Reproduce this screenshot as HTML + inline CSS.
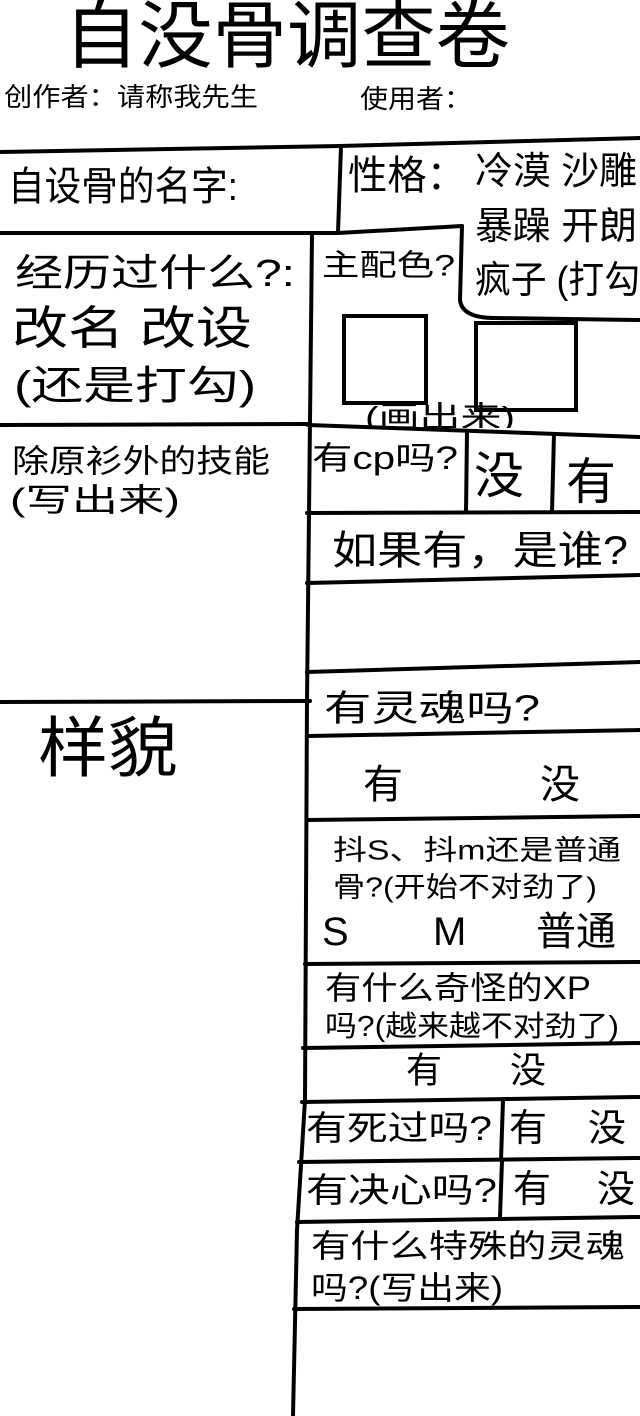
<!DOCTYPE html>
<html><head><meta charset="utf-8"><style>
html,body{margin:0;padding:0;background:#fff;}
svg{display:block;}
text{font-family:"Liberation Sans","Noto Sans CJK SC",sans-serif;fill:#000;dominant-baseline:central;}
</style></head><body>
<svg width="640" height="1416" viewBox="0 0 640 1416" xmlns="http://www.w3.org/2000/svg">
<defs><clipPath id="c1"><rect x="300" y="380" width="340" height="48"/></clipPath></defs>
<g stroke="#000" stroke-width="4" fill="none" stroke-linecap="round">
<path d="M0 152 L340 146 L640 138"/>
<path d="M341 146 L338 233"/>
<path d="M0 233 L338 233 L462 226"/>
<path d="M462 226 L460 300 Q462 318 495 318 L640 320"/>
<path d="M312 234 L307 700 L305 1100 L297 1230 L293 1416"/>
<path d="M0 425 L310 424"/>
<rect x="344" y="316" width="82" height="87"/>
<rect x="476" y="323" width="100" height="87"/>
<path d="M308 425 L640 437"/>
<path d="M467 432 L466 512"/>
<path d="M554 434 L552 512"/>
<path d="M307 513 L640 512"/>
<path d="M307 583 L640 575"/>
<path d="M307 672 L640 662"/>
<path d="M0 702 L310 701"/>
<path d="M309 736 L640 730"/>
<path d="M307 820 L640 816"/>
<path d="M305 964 L640 962"/>
<path d="M303 1048 L640 1043"/>
<path d="M302 1102 L640 1097"/>
<path d="M503 1100 L501 1160"/>
<path d="M299 1162 L640 1158"/>
<path d="M502 1160 L500 1217"/>
<path d="M297 1222 L640 1217"/>
<path d="M294 1309 L640 1307"/>
</g>
<text x="64" y="36" font-size="74" textLength="446" lengthAdjust="spacingAndGlyphs">自没骨调查卷</text>
<text x="4" y="97" font-size="26" textLength="254" lengthAdjust="spacingAndGlyphs">创作者：请称我先生</text>
<text x="360" y="99" font-size="26" textLength="112" lengthAdjust="spacingAndGlyphs">使用者：</text>
<text x="8" y="187" font-size="40" textLength="230" lengthAdjust="spacingAndGlyphs">自设骨的名字:</text>
<text x="348" y="176" font-size="40" textLength="118" lengthAdjust="spacingAndGlyphs">性格：</text>
<text x="475" y="172" font-size="38" textLength="162" lengthAdjust="spacingAndGlyphs">冷漠 沙雕</text>
<text x="475" y="227" font-size="38" textLength="162" lengthAdjust="spacingAndGlyphs">暴躁 开朗</text>
<text x="475" y="281" font-size="38" textLength="165" lengthAdjust="spacingAndGlyphs">疯子 (打勾</text>
<text x="15" y="274" font-size="38" textLength="280" lengthAdjust="spacingAndGlyphs">经历过什么?:</text>
<text x="12" y="328" font-size="46" textLength="240" lengthAdjust="spacingAndGlyphs">改名 改设</text>
<text x="14" y="386" font-size="40" textLength="242" lengthAdjust="spacingAndGlyphs">(还是打勾)</text>
<text x="322" y="266" font-size="30" textLength="133" lengthAdjust="spacingAndGlyphs">主配色?</text>
<text x="365" y="418" font-size="30" textLength="150" lengthAdjust="spacingAndGlyphs" clip-path="url(#c1)">(画出来)</text>
<text x="12" y="461" font-size="32" textLength="258" lengthAdjust="spacingAndGlyphs">除原衫外的技能</text>
<text x="10" y="500" font-size="32" textLength="170" lengthAdjust="spacingAndGlyphs">(写出来)</text>
<text x="312" y="458" font-size="32" textLength="146" lengthAdjust="spacingAndGlyphs">有cp吗?</text>
<text x="474" y="476" font-size="50">没</text>
<text x="566" y="482" font-size="50">有</text>
<text x="332" y="551" font-size="40" textLength="296" lengthAdjust="spacingAndGlyphs">如果有，是谁?</text>
<text x="38" y="748" font-size="66" textLength="140" lengthAdjust="spacingAndGlyphs">样貌</text>
<text x="324" y="708" font-size="36" textLength="216" lengthAdjust="spacingAndGlyphs">有灵魂吗?</text>
<text x="363" y="785" font-size="40">有</text>
<text x="540" y="785" font-size="40">没</text>
<text x="333" y="850" font-size="28" textLength="288" lengthAdjust="spacingAndGlyphs">抖S、抖m还是普通</text>
<text x="333" y="887" font-size="28" textLength="264" lengthAdjust="spacingAndGlyphs">骨?(开始不对劲了)</text>
<text x="322" y="932" font-size="40">S</text>
<text x="433" y="932" font-size="40">M</text>
<text x="536" y="932" font-size="40">普通</text>
<text x="325" y="988" font-size="32" textLength="266" lengthAdjust="spacingAndGlyphs">有什么奇怪的XP</text>
<text x="325" y="1027" font-size="29" textLength="294" lengthAdjust="spacingAndGlyphs">吗?(越来越不对劲了)</text>
<text x="406" y="1070" font-size="36">有</text>
<text x="510" y="1070" font-size="36">没</text>
<text x="306" y="1129" font-size="34" textLength="186" lengthAdjust="spacingAndGlyphs">有死过吗?</text>
<text x="509" y="1129" font-size="38">有</text>
<text x="588" y="1129" font-size="38">没</text>
<text x="306" y="1191" font-size="34" textLength="191" lengthAdjust="spacingAndGlyphs">有决心吗?</text>
<text x="513" y="1190" font-size="38">有</text>
<text x="597" y="1190" font-size="38">没</text>
<text x="311" y="1246" font-size="32" textLength="314" lengthAdjust="spacingAndGlyphs">有什么特殊的灵魂</text>
<text x="311" y="1288" font-size="32" textLength="192" lengthAdjust="spacingAndGlyphs">吗?(写出来)</text>
</svg>
</body></html>
